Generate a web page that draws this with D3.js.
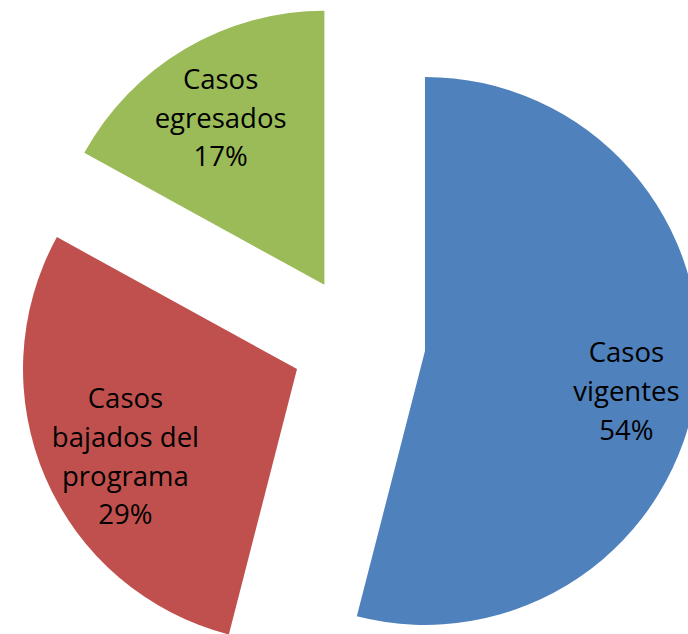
<!DOCTYPE html>
<html>
<head>
<meta charset="utf-8">
<script src="https://cdn.jsdelivr.net/npm/d3@7/dist/d3.min.js"></script>
<style>
  html, body { margin: 0; padding: 0; background: #ffffff; }
  svg { display: block; }
</style>
</head>
<body>
<svg id="chart" width="688" height="634"></svg>
<script>
const categories = ["Casos vigentes", "Casos bajados del programa", "Casos egresados"];
const values = [54, 29, 17];
const percentLabels = ["54%", "29%", "17%"];
const labelLines = [["Casos", "vigentes"], ["Casos", "bajados del", "programa"], ["Casos", "egresados"]];
const colors = ["#4F81BD", "#C0504D", "#9BBB59"];

// layout constants
const width = 688, height = 634;
const cx = 358.5, cy = 342.5;
const radius = 274;
const explode = 67;
const labelFrac = 0.73;
const lineHeight = 38.7;
const fontSize = 27.5;
const labelNudge = [[3, 15], [12, 8], [-2, 5]];

const svg = d3.select("#chart");
const pie = d3.pie().sort(null).value(d => d)(values);
const arc = d3.arc().innerRadius(0).outerRadius(radius);
const labelArc = d3.arc().innerRadius(radius * labelFrac).outerRadius(radius * labelFrac);

const g = svg.append("g").attr("transform", `translate(${cx},${cy})`);

const slices = g.selectAll("g.slice")
  .data(pie)
  .join("g")
  .attr("class", "slice")
  .attr("transform", d => {
    const mid = (d.startAngle + d.endAngle) / 2;
    return `translate(${Math.sin(mid) * explode},${-Math.cos(mid) * explode})`;
  });

slices.append("path")
  .attr("d", arc)
  .attr("fill", (d, i) => colors[i]);

slices.each(function(d, i) {
  const lines = labelLines[i].concat([percentLabels[i]]);
  const c = labelArc.centroid(d);
  const lx = c[0] + labelNudge[i][0];
  const ly = c[1] + labelNudge[i][1];
  const n = lines.length;
  const t = d3.select(this).append("text")
    .attr("text-anchor", "middle")
    .attr("font-family", "'Open Sans', 'Noto Sans', sans-serif")
    .attr("font-size", fontSize)
    .attr("fill", "#000000");
  lines.forEach((s, k) => {
    t.append("tspan")
      .attr("x", lx)
      .attr("y", ly + (k - (n - 1) / 2) * lineHeight + fontSize * 0.36)
      .text(s);
  });
});
</script>
</body>
</html>
